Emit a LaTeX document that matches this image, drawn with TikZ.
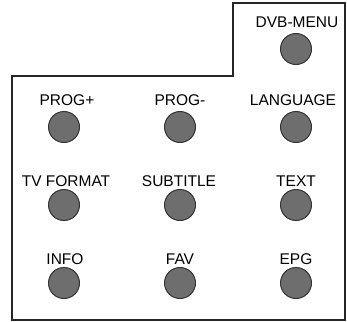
\documentclass[tikz,border=0pt]{standalone}
\usepackage{fontspec}
\setmainfont{Liberation Sans}
\begin{document}
\begin{tikzpicture}[x=1pt,y=-1pt,
  btn/.style={circle,draw=black!80,line width=1pt,fill=black!57,minimum size=31pt,inner sep=0pt},
  lbl/.style={font=\fontsize{15.5}{18}\selectfont,inner sep=0pt,anchor=base}]
\useasboundingbox (0,0) rectangle (347,321);
\draw[line width=1.3pt,black!85] (12,76) -- (233,76) -- (233,3) -- (345,3) -- (345,320) -- (12,320) -- cycle;
% labels
\node[lbl] (l1) at (297,28) {DVB-MENU};
\node[lbl] (l2) at (67,105) {PROG+};
\node[lbl] (l3) at (180,105) {PROG-};
\node[lbl] (l4) at (293,105) {LANGUAGE};
\node[lbl] (l5) at (66,186) {TV FORMAT};
\node[lbl] (l6) at (179,186) {SUBTITLE};
\node[lbl] (l7) at (296,186) {TEXT};
\node[lbl] (l8) at (65,264) {INFO};
\node[lbl] (l9) at (180,264) {FAV};
\node[lbl] (l10) at (296,264) {EPG};
% buttons
\node[btn] (b1) at (296,49) {};
\node[btn] (b2) at (64,127) {};
\node[btn] (b3) at (180,127) {};
\node[btn] (b4) at (296,127) {};
\node[btn] (b5) at (64,205) {};
\node[btn] (b6) at (180,205) {};
\node[btn] (b7) at (296,205) {};
\node[btn] (b8) at (64,283) {};
\node[btn] (b9) at (180,283) {};
\node[btn] (b10) at (296,283) {};
\end{tikzpicture}
\end{document}
